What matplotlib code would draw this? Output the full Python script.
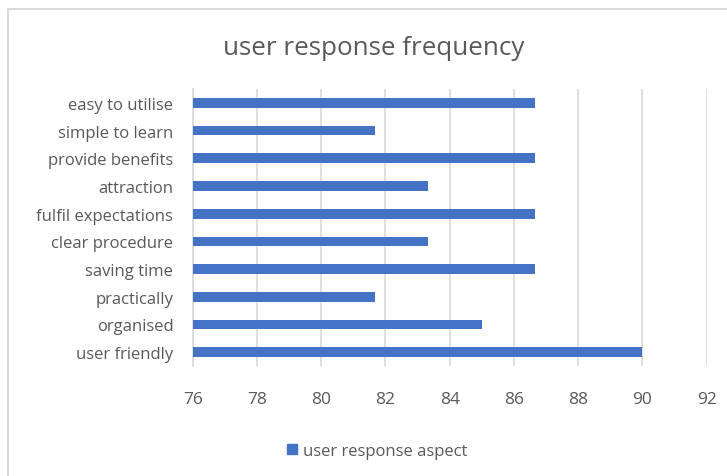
import matplotlib
matplotlib.use("Agg")
import matplotlib.pyplot as plt
from matplotlib.lines import Line2D
from matplotlib.patches import Patch

# data, bottom to top as drawn
categories = ["user friendly", "organised", "practically", "saving time",
              "clear procedure", "fulfil expectations", "attraction",
              "provide benefits", "simple to learn", "easy to utilise"]
values = [90, 85, 81.67, 86.67, 83.33, 86.67, 83.33, 86.67, 81.67, 86.67]
x_ticks = [76, 78, 80, 82, 84, 86, 88, 90, 92]
series_name = "user response aspect"
title = "user response frequency"

BAR = "#4472C4"
TEXT = "#595959"
GRID = "#d9d9d9"

plt.rcParams["font.family"] = ["Open Sans", "DejaVu Sans"]

fig = plt.figure(figsize=(7.27, 4.77), dpi=100)
ax = fig.add_axes([0.2651, 0.2306, 0.707, 0.5807])

ypos = list(range(len(categories)))
ax.barh(ypos, [v - x_ticks[0] for v in values], left=x_ticks[0],
        height=0.35, color=BAR, zorder=3)

ax.set_xlim(x_ticks[0], x_ticks[-1])
ax.set_ylim(-0.5, len(categories) - 0.5)
ax.set_xticks(x_ticks)
ax.set_xticklabels([str(t) for t in x_ticks])
ax.set_yticks(ypos)
ax.set_yticklabels(categories)
ax.tick_params(axis="x", length=0, pad=18, labelsize=12.5, labelcolor=TEXT)
ax.tick_params(axis="y", length=0, pad=14, labelsize=12, labelcolor=TEXT)
ax.grid(axis="x", color=GRID, lw=1.2, zorder=0)

for side in ["top", "right", "bottom"]:
    ax.spines[side].set_visible(False)
ax.spines["left"].set_color(GRID)
ax.spines["left"].set_linewidth(1.2)

fig.text(0.5145, 0.8847, title, ha="center", va="baseline",
         fontsize=18.7, color=TEXT)

handles = [Patch(facecolor=BAR, edgecolor=BAR)]
fig.legend(handles, [series_name], loc="center", bbox_to_anchor=(0.519, 0.0524),
           frameon=False, fontsize=12, labelcolor=TEXT,
           handlelength=0.6, handleheight=0.6, handletextpad=0.4)

# chart frame (only top and left edges are visible)
fig.add_artist(Line2D([7.5 / 727, 1], [1 - 9.5 / 477] * 2, color=GRID, lw=1.5,
                      transform=fig.transFigure))
fig.add_artist(Line2D([7.5 / 727] * 2, [0, 1 - 9.5 / 477], color=GRID, lw=1.5,
                      transform=fig.transFigure))

fig.savefig("out.png", dpi=100)
